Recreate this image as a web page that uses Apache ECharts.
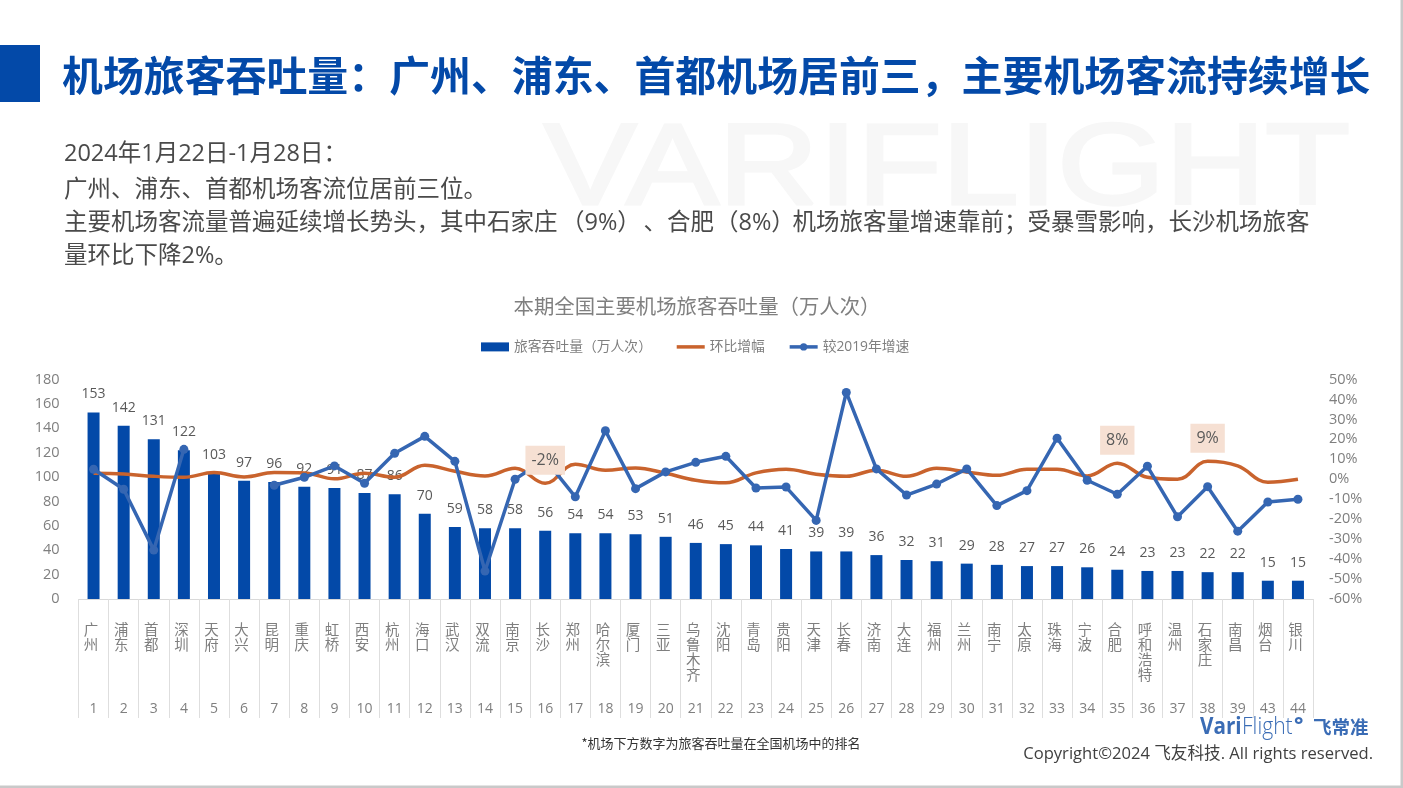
<!DOCTYPE html>
<html><head><meta charset="utf-8">
<style>html,body{margin:0;padding:0;background:#fff;overflow:hidden}#c{width:1403px;height:788px}</style>
<script src="https://cdn.jsdelivr.net/npm/echarts@6/dist/echarts.min.js"></script>
</head><body><div id="c"></div>
<script>
const cities = ['广州','浦东','首都','深圳','天府','大兴','昆明','重庆','虹桥','西安','杭州','海口','武汉','双流','南京','长沙','郑州','哈尔滨','厦门','三亚','乌鲁木齐','沈阳','青岛','贵阳','天津','长春','济南','大连','福州','兰州','南宁','太原','珠海','宁波','合肥','呼和浩特','温州','石家庄','南昌','烟台','银川'];
const ranks = ['1','2','3','4','5','6','7','8','9','10','11','12','13','14','15','16','17','18','19','20','21','22','23','24','25','26','27','28','29','30','31','32','33','34','35','36','37','38','39','43','44'];
const throughput = [153,142,131,122,103,97,96,92,91,87,86,70,59,58,58,56,54,54,53,51,46,45,44,41,39,39,36,32,31,29,28,27,27,26,24,23,23,22,22,15,15];
const wowGrowth = [3,2.6,1.5,1,3.4,1.2,3.4,3.2,0.2,3,1,7,4,1.7,5.5,-2,7.5,4.5,5.7,3,-0.5,-1.8,3.2,5,2.5,1.5,4.5,1.5,5.5,3.7,2,5,5,1.7,8,1,0,9,6.7,-1.5,0];
const vs2019 = [5,-5,-35.5,15,null,null,-3,1,6.7,-2,13,21.5,9,-46,0,10,-8.8,24.3,-4.7,3.7,8.5,11.5,-4.4,-3.9,-20.6,43.5,5.2,-7.9,-2.4,5.2,-13.2,-5.7,20.6,-0.5,-7.5,6.5,-18.8,-3.7,-26,-11.4,-10];
const calloutCities = ['长沙','合肥','石家庄'];
const calloutText = ['-2%','8%','9%'];
const yLeftTicks = {min:0,max:180,interval:20};
const yRightTicks = {min:-60,max:50,interval:10};
const pageTitle = '机场旅客吞吐量：广州、浦东、首都机场居前三，主要机场客流持续增长';
const bodyLine1 = '2024年1月22日-1月28日：';
const bodyLine2 = '广州、浦东、首都机场客流位居前三位。';
const bodyLine3Parts = ['主要机场客流量普遍延续增长势头，其中石家庄','（9%）','、合肥','（8%）','机场旅客量增速靠前；受暴雪影响，长沙机场旅客'];
const bodyLine4 = '量环比下降2%。';
const chartTitle = '本期全国主要机场旅客吞吐量（万人次）';
const seriesNames = ['旅客吞吐量（万人次）','环比增幅','较2019年增速'];
const footnote = '*机场下方数字为旅客吞吐量在全国机场中的排名';
const copyright = 'Copyright©2024 飞友科技. All rights reserved.';

const FONT = '"Open Sans","Noto Sans CJK SC",sans-serif';
const BLUE = '#0349a8', ORANGE='#c9632d', LINEBLUE='#3566b2', GREY='#7f7f7f', DARK='#595959', LOGO='#3a6cb5';
const chart = echarts.init(document.getElementById('c'),null,{renderer:'canvas',width:1403,height:788});

function bodyText(t,x,y){return {type:'text',x:x,y:y,z:1,style:{text:t,font:'23.5px "Open Sans","Noto Sans CJK SC",sans-serif',fill:'#4a4a4a',textBaseline:'middle',textVerticalAlign:'middle'}};}
const part3X = [64,561,643.5,715,792.5];
const graphics = [
  {type:'rect',shape:{x:0,y:45,width:40,height:57},style:{fill:BLUE},z:0},
  {type:'rect',shape:{x:1400.5,y:0,width:2.5,height:788},style:{fill:'#c9c9c9'},z:0},
  {type:'rect',shape:{x:0,y:785.5,width:1403,height:2.5},style:{fill:'#c9c9c9'},z:0},
  {type:'text',x:544,y:172,scaleX:1.205,scaleY:1,z:0,style:{text:'VARIFLIGHT',font:'115px "Liberation Sans",sans-serif',fill:'#f7f7f7',stroke:'#f7f7f7',lineWidth:3,textBaseline:'middle',textVerticalAlign:'middle'}},
  {type:'text',x:62,y:75,z:1,style:{text:pageTitle,font:'bold 40.9px "Noto Sans CJK SC",sans-serif',fill:BLUE,textBaseline:'middle',textVerticalAlign:'middle'}},
  bodyText(bodyLine1,64,154),
  bodyText(bodyLine2,64,190),
  ...bodyLine3Parts.map((t,i)=>bodyText(t,part3X[i],223)),
  bodyText(bodyLine4,64,256),
  {type:'text',x:721,y:743,z:1,style:{text:footnote,font:'13px "Noto Sans CJK SC",sans-serif',fill:'#333',textAlign:'center',textBaseline:'middle',textVerticalAlign:'middle'}},
  {type:'text',x:1200,y:727,scaleX:0.88,z:5,style:{text:'Vari',font:'bold 23.5px "Open Sans",sans-serif',fill:LOGO,textBaseline:'middle',textVerticalAlign:'middle'}},
  {type:'text',x:1242,y:727,scaleX:0.88,z:5,style:{text:'Flight',font:'300 24px "Open Sans",sans-serif',fill:LOGO,textBaseline:'middle',textVerticalAlign:'middle'}},
  {type:'text',x:1294,y:726,z:5,style:{text:'°',font:'bold 22px "Open Sans",sans-serif',fill:LOGO,textBaseline:'middle',textVerticalAlign:'middle'}},
  {type:'text',x:1313,y:727,z:5,style:{text:'飞常准',font:'bold 18.5px "Noto Sans CJK SC",sans-serif',fill:LOGO,textBaseline:'middle',textVerticalAlign:'middle'}},
  {type:'text',x:1373,y:754,z:5,style:{text:copyright,font:'16.6px "Open Sans","Noto Sans CJK SC",sans-serif',fill:'#404040',textAlign:'right',textBaseline:'middle',textVerticalAlign:'middle'}}
];

chart.setOption({
  animation:false,
  backgroundColor:'#fff',
  textStyle:{fontFamily:FONT},
  title:{text:chartTitle,left:692,top:293,textAlign:'center',textStyle:{fontSize:20.4,fontWeight:'normal',color:GREY,fontFamily:FONT}},
  legend:{left:476,top:335,itemWidth:28,itemHeight:9,itemGap:23,
    data:[{name:seriesNames[0],icon:'rect'},{name:seriesNames[1],itemStyle:{opacity:0}},{name:seriesNames[2]}],
    lineStyle:{width:3.5},textStyle:{fontSize:13.8,color:GREY,fontFamily:FONT}},
  graphic:graphics,
  grid:{left:78.5,right:90,top:379.5,height:219.5,containLabel:false},
  xAxis:[
    {type:'category',data:cities,position:'bottom',
      axisLine:{show:true,lineStyle:{color:'#d9d9d9',width:1}},
      axisTick:{show:true,length:119,lineStyle:{color:'#dedede',width:1}},
      axisLabel:{interval:0,margin:24,color:GREY,fontSize:14.5,lineHeight:15,verticalAlign:'top',align:'center',padding:[0,5,0,0],
        formatter:v=>v.split('').join('\n'),fontFamily:FONT}},
    {type:'category',data:ranks,position:'bottom',
      axisLine:{show:false},axisTick:{show:false},
      axisLabel:{interval:0,margin:103,color:GREY,fontSize:14,fontFamily:FONT,verticalAlign:'top'}}
  ],
  yAxis:[
    {type:'value',min:yLeftTicks.min,max:yLeftTicks.max,interval:yLeftTicks.interval,splitLine:{show:false},axisLine:{show:false},axisTick:{show:false},
      axisLabel:{color:GREY,fontSize:14.5,margin:19,padding:[2,0,0,0],fontFamily:FONT}},
    {type:'value',min:yRightTicks.min,max:yRightTicks.max,interval:yRightTicks.interval,position:'right',splitLine:{show:false},axisLine:{show:false},axisTick:{show:false},
      axisLabel:{color:GREY,fontSize:14.5,margin:16,padding:[2,0,0,0],align:'left',formatter:'{value}%',fontFamily:FONT}}
  ],
  series:[
    {name:seriesNames[0],type:'bar',data:throughput,barWidth:12,itemStyle:{color:BLUE},z:2,
      label:{show:true,position:'top',distance:11,color:DARK,fontSize:14,fontFamily:FONT}},
    {name:seriesNames[1],type:'line',yAxisIndex:1,smooth:0.4,showSymbol:false,symbol:'none',data:wowGrowth,
      lineStyle:{color:ORANGE,width:3.5},itemStyle:{color:ORANGE},z:3},
    {name:seriesNames[2],type:'line',yAxisIndex:1,data:vs2019,symbol:'circle',symbolSize:9,showAllSymbol:true,connectNulls:false,
      lineStyle:{color:LINEBLUE,width:3.5},itemStyle:{color:LINEBLUE},z:4},
    {name:'callouts',type:'line',yAxisIndex:1,showAllSymbol:true,symbol:'circle',symbolSize:1,z:5,silent:true,
      lineStyle:{opacity:0,width:0},itemStyle:{opacity:0},
      data:wowGrowth.map((v,i)=>{
        const k=calloutCities.indexOf(cities[i]);
        return k<0?null:{value:v,label:{show:true,position:'top',distance:8,formatter:calloutText[k],color:DARK,opacity:1,fontSize:16,fontFamily:FONT,backgroundColor:'#f6e0d3',padding:[7,6,6,6]}};
      })}
  ]
});
</script></body></html>
